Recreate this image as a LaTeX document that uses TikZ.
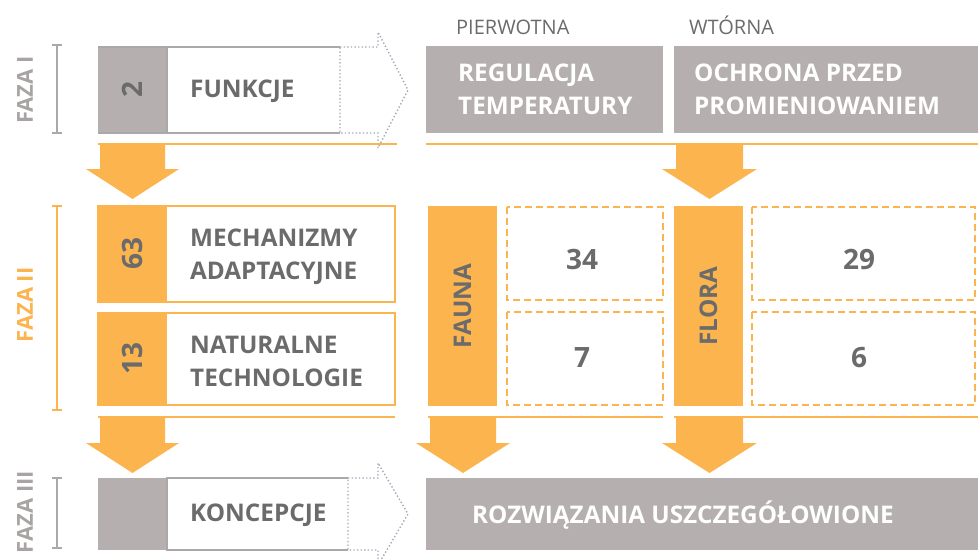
\documentclass[tikz,border=0pt]{standalone}
\usepackage{fontspec}
\setmainfont{Open Sans}
\usetikzlibrary{calc}
\definecolor{orng}{HTML}{FBB44E}
\definecolor{gfill}{HTML}{B5AFAF}
\definecolor{gline}{HTML}{ADA8A8}
\definecolor{txt}{HTML}{6B6B6B}
\definecolor{dotc}{HTML}{A4A8B8}
\definecolor{phase}{HTML}{A8A4A4}

% block arrow pointing down: shaft left, shaft right, top y, head y, tip y
\newcommand{\blockdown}[5]{%
  \fill[orng] (#1,#3) -- (#2,#3) -- (#2,#4) -- ($(#2,#4)+(14,0)$) --
    ($(#1,#5)!0.5!(#2,#5)$) -- ($(#1,#4)+(-14,0)$) -- (#1,#4) -- cycle;}

\begin{document}
\begin{tikzpicture}[x=1pt,y=-1pt,
  box/.style={anchor=north west, inner sep=0pt, outer sep=0pt},
  bold/.style={font=\bfseries\fontsize{24.3}{33}\selectfont, text=txt, align=left, inner sep=0pt},
  wbold/.style={bold, text=white},
  num/.style={font=\bfseries\fontsize{28}{30}\selectfont, text=txt, inner sep=0pt},
  head/.style={font=\fontsize{20}{22}\selectfont, text=txt, inner sep=0pt, anchor=base west},
  phaselbl/.style={font=\bfseries\fontsize{22}{24}\selectfont, rotate=90, inner sep=0pt},
  bracket/.style={line width=2pt},
  dashbox/.style={draw=orng, line width=2pt, dash pattern=on 7pt off 4pt},
  dotline/.style={draw=dotc, line width=1.4pt, dash pattern=on 1.4pt off 2.2pt},
]
\useasboundingbox (0,0) rectangle (978,560);

% ---------- phase labels and brackets ----------
\node[phaselbl, text=phase] (fazaI) at (25,90) {FAZA I};
\draw[bracket, gline] (57,45) -- (57,133) (52,45) -- (62,45) (52,133) -- (62,133);
\node[phaselbl, text=orng] (fazaII) at (25,305) {FAZA II};
\draw[bracket, orng] (57,206) -- (57,410) (52,206) -- (62,206) (52,410) -- (62,410);
\node[phaselbl, text=phase] (fazaIII) at (25,512) {FAZA III};
\draw[bracket, gline] (57,478) -- (57,548) (52,478) -- (62,478) (52,548) -- (62,548);

% ---------- phase I ----------
\node[box, fill=gfill, minimum width=69pt, minimum height=86pt] (fnum) at (98,47) {};
\node[text=white, num] at (fnum.center) [rotate=90] {2};
\draw[gline, line width=2pt] (340,47) -- (167,47) -- (167,133) -- (340,133);
\draw[gline, line width=2pt] (98,47) -- (167,47) (98,133) -- (167,133);
\draw[dotline] (340,47) -- (378,47) -- (378,32) -- (408,90) -- (378,148) -- (378,133) -- (340,133) -- cycle;
\node[bold, anchor=west] (funk) at (190,91) {FUNKCJE};

\node[head] (pier) at (456,34) {PIERWOTNA};
\node[head] (wtor) at (689,34) {WTÓRNA};
\node[box, fill=gfill, minimum width=237pt, minimum height=87pt] (reg) at (426,46) {};
\node[wbold, anchor=west] at (458,89) {REGULACJA\\TEMPERATURY};
\node[box, fill=gfill, minimum width=310pt, minimum height=87pt] (och) at (674,46) {};
\node[wbold, anchor=west] at (694,89) {OCHRONA PRZED\\PROMIENIOWANIEM};

\draw[orng, line width=2.5pt] (98,144) -- (397,144);
\draw[orng, line width=2.5pt] (426,144) -- (980,144);
\blockdown{100}{165}{143}{169}{199}
\blockdown{676}{743}{143}{169}{199}

% ---------- phase II ----------
\node[box, fill=orng, minimum width=69pt, minimum height=96pt] (m63) at (98,206) {};
\draw[orng, line width=2pt] (98,206) rectangle (395,302);
\node[num, rotate=90] at (m63.center) {63};
\node[bold, anchor=west] (mech) at (190,257) {MECHANIZMY\\ADAPTACYJNE};

\node[box, fill=orng, minimum width=69pt, minimum height=92pt] (m13) at (98,313) {};
\draw[orng, line width=2pt] (98,313) rectangle (395,405);
\node[num, rotate=90] at (m13.center) {13};
\node[bold, anchor=west] (nat) at (190,361) {NATURALNE\\TECHNOLOGIE};

\node[box, fill=orng, minimum width=69pt, minimum height=200pt] (fauna) at (428,206) {};
\node[bold, rotate=90] at (fauna.center) {FAUNA};
\draw[dashbox] (507,207) rectangle (663,300);
\node[num] (n34) at (582,259) {34};
\draw[dashbox] (507,312) rectangle (663,405);
\node[num] (n7) at (582,358) {7};

\node[box, fill=orng, minimum width=69pt, minimum height=200pt] (flora) at (674,206) {};
\node[bold, rotate=90] at (flora.center) {FLORA};
\draw[dashbox] (752,207) rectangle (975,300);
\node[num] (n29) at (859,259) {29};
\draw[dashbox] (752,312) rectangle (975,405);
\node[num] (n6) at (859,358) {6};

\draw[orng, line width=2pt] (98,417) -- (395,417);
\draw[orng, line width=2pt] (428,417) -- (663,417);
\draw[orng, line width=2pt] (674,417) -- (980,417);
\blockdown{100}{165}{416}{443}{473}
\blockdown{430}{496}{416}{443}{473}
\blockdown{676}{743}{416}{443}{473}

% ---------- phase III ----------
\node[box, fill=gfill, minimum width=69pt, minimum height=72pt] (knum) at (98,478) {};
\draw[gline, line width=2pt] (348,478) -- (167,478) -- (167,550) -- (348,550);
\draw[dotline] (348,478) -- (378,478) -- (378,463) -- (408,514) -- (378,565) -- (378,550) -- (348,550) -- cycle;
\node[bold, anchor=west] (konc) at (190,515) {KONCEPCJE};
\node[box, fill=gfill, minimum width=560pt, minimum height=72pt] (roz) at (426,478) {};
\node[wbold, anchor=west] at (472,515) {ROZWIĄZANIA USZCZEGÓŁOWIONE};
\end{tikzpicture}
\end{document}
